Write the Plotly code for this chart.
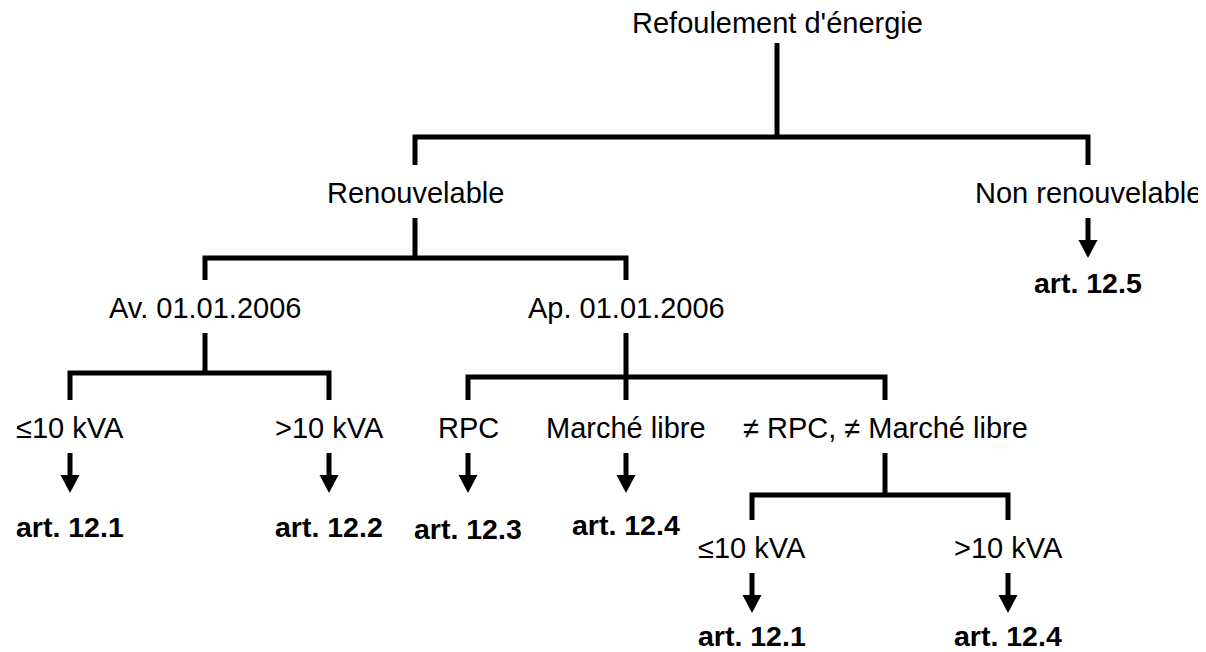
import plotly.graph_objects as go

# ---- tree data ----
node_labels = ["Refoulement d'énergie", "Renouvelable", "Non renouvelable",
               "Av. 01.01.2006", "Ap. 01.01.2006",
               "≤10 kVA", ">10 kVA", "RPC", "Marché libre", "≠ RPC, ≠ Marché libre",
               "≤10 kVA", ">10 kVA"]
node_x = [777, 415, 1088, 205, 626, 70, 329, 468, 626, 885, 752, 1008]
node_y = [23, 193, 193, 308, 308, 428, 428, 428, 428, 428, 548, 548]

# branches: parent node -> child nodes, with the y of the horizontal bar
branch_parent = [0, 1, 4, 3, 9]
branch_children = [[1, 2], [3, 4], [7, 8, 9], [5, 6], [10, 11]]
branch_bar_y = [137, 258, 377, 373, 495]

# outcomes: leaf node -> article
outcome_parent = [2, 5, 6, 7, 8, 10, 11]
outcome_labels = ["art. 12.5", "art. 12.1", "art. 12.2", "art. 12.3", "art. 12.4", "art. 12.1", "art. 12.4"]
outcome_y = [283, 527, 527, 529, 525, 636, 636]

FONT = "Liberation Sans, Arial, Helvetica, sans-serif"
LW = 5
GAP_BELOW = 25
GAP_ABOVE = 28
OFF = 8  # page body margin in the browser

shapes = []
def seg_path(points):
    d = "M %g,%g" % points[0]
    for p in points[1:]:
        d += " L %g,%g" % p
    return d

for p, kids, by in zip(branch_parent, branch_children, branch_bar_y):
    px, py = node_x[p], node_y[p]
    top = py + (20 if p == 0 else GAP_BELOW)
    shapes.append(dict(type="path", path=seg_path([(px, top), (px, by)]),
                       line=dict(color="black", width=LW)))
    kx = [node_x[k] for k in kids]
    left, right = min(kx), max(kx)
    ky = node_y[kids[0]] - GAP_ABOVE
    shapes.append(dict(type="path",
                       path=seg_path([(left, ky), (left, by), (right, by), (right, ky)]),
                       line=dict(color="black", width=LW)))
    for k in kids:
        if node_x[k] not in (left, right):
            shapes.append(dict(type="path", path=seg_path([(node_x[k], by), (node_x[k], ky)]),
                               line=dict(color="black", width=LW)))

for p in outcome_parent:
    x, y = node_x[p], node_y[p]
    y0 = y + GAP_BELOW
    yh = y + 47
    yt = y + 65
    shapes.append(dict(type="path", path=seg_path([(x, y0), (x, yh + 2)]),
                       line=dict(color="black", width=LW)))
    shapes.append(dict(type="path",
                       path="M %g,%g L %g,%g L %g,%g Z" % (x - 9.5, yh, x + 9.5, yh, x, yt),
                       fillcolor="black", line=dict(color="black", width=0)))

annotations = []
for lab, x, y in zip(node_labels, node_x, node_y):
    annotations.append(dict(x=x, y=y, text=lab, showarrow=False, xanchor="center", yanchor="middle",
                            borderpad=0, font=dict(family=FONT, size=29, color="black")))
for p, lab, y in zip(outcome_parent, outcome_labels, outcome_y):
    annotations.append(dict(x=node_x[p], y=y, text="<b>%s</b>" % lab, showarrow=False,
                            xanchor="center", yanchor="middle", borderpad=0,
                            font=dict(family=FONT, size=28.5, color="black")))

W, H = 1206, 652
fig = go.Figure()
fig.add_trace(go.Scatter(x=[OFF, W], y=[OFF, H], mode="markers", marker=dict(opacity=0),
                         hoverinfo="skip", showlegend=False))
fig.update_layout(
    width=W - OFF, height=H - OFF,
    margin=dict(l=0, r=0, t=0, b=0),
    paper_bgcolor="white", plot_bgcolor="white",
    xaxis=dict(range=[OFF, W], visible=False, fixedrange=True),
    yaxis=dict(range=[H, OFF], visible=False, fixedrange=True),
    shapes=shapes, annotations=annotations, showlegend=False,
)
fig.write_html("out.html")
